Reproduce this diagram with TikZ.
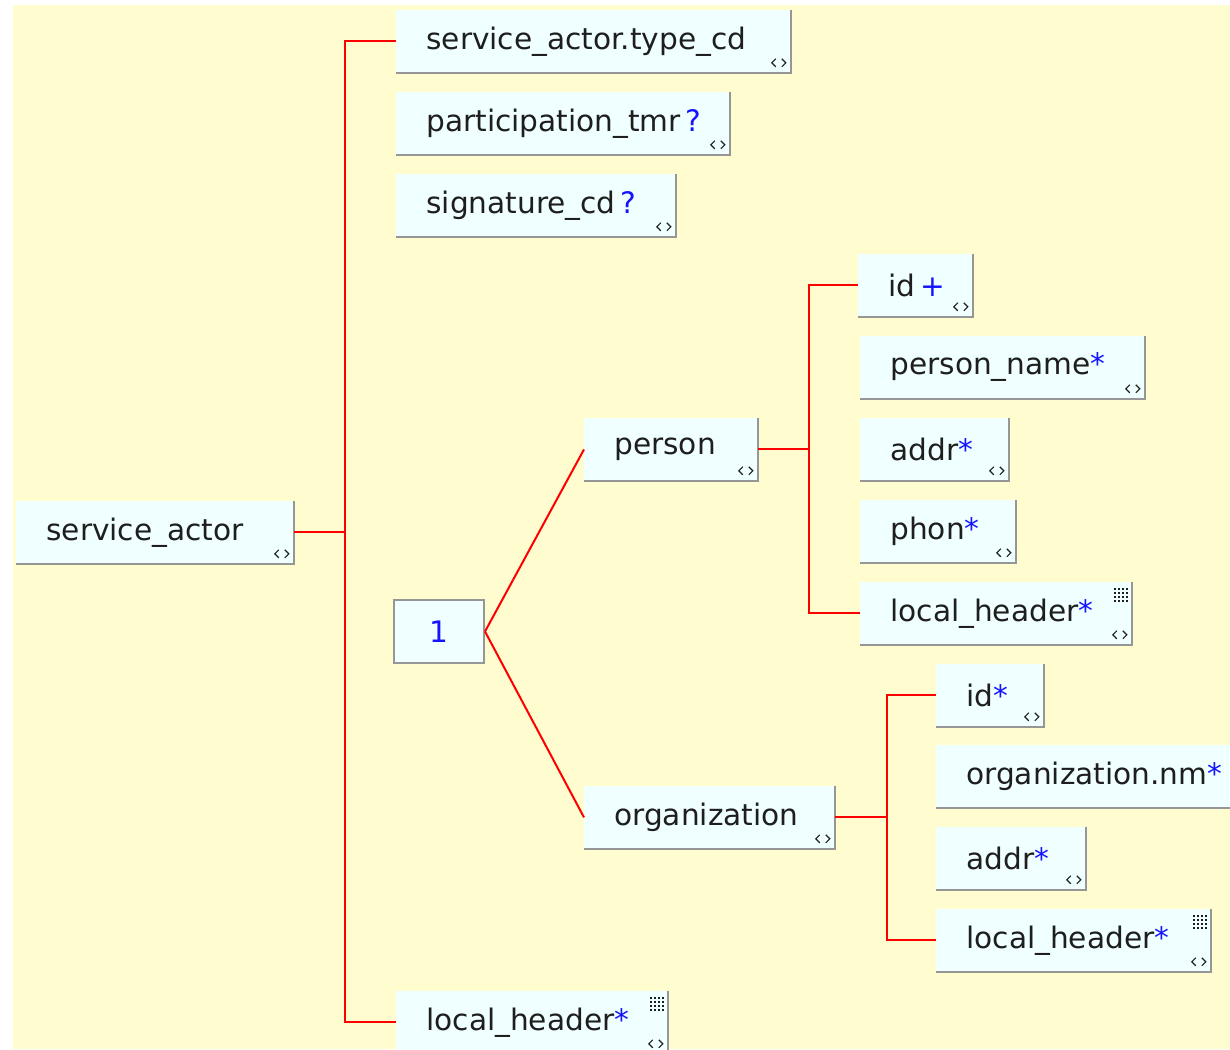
\documentclass[tikz,border=0pt]{standalone}
\usepackage{fontspec}
\setmainfont{DejaVu Sans}
\definecolor{canvas}{RGB}{255,253,208}
\definecolor{boxfill}{RGB}{240,255,255}
\definecolor{boxedge}{RGB}{150,150,150}
\definecolor{occblue}{RGB}{20,20,255}
\definecolor{ink}{RGB}{30,30,30}
\newcommand{\occ}[1]{\textcolor{occblue}{#1}}

\begin{document}
\begin{tikzpicture}[x=0.5pt,y=-0.5pt,
  elem/.style={anchor=north west, fill=boxfill, inner xsep=15pt, inner ysep=0pt,
    minimum height=31pt, align=left, text=ink, font=\fontsize{14.8}{17}\selectfont},
  choicebox/.style={anchor=north west, fill=boxfill, draw=boxedge, line width=1pt,
    minimum width=45pt, minimum height=31.5pt, text=occblue, font=\fontsize{14.8}{17}\selectfont},
  link/.style={draw=red, line width=1pt},
  shade/.style={draw=boxedge, line width=1pt},
  icon/.style={draw=ink, line width=0.6pt}]
\useasboundingbox (0,0) rectangle (1230,1049);
\clip (0,0) rectangle (1230,1049);
\fill[white] (0,0) rectangle (1230,1049);
\fill[canvas] (13,5) rectangle (1230,1049);

% root and its sequence
\node[elem, text width=108.5pt] (sa) at (16,501) {service\_actor};
\node[elem, text width=167pt] (tcd) at (396,10) {service\_actor.type\_cd};
\node[elem, text width=136.5pt] (ptmr) at (396,92) {participation\_tmr\,\occ{?}};
\node[elem, text width=109.5pt] (sigcd) at (396,174) {signature\_cd\,\occ{?}};
\node[choicebox] (one) at (393,599) {1};
\node[elem, text width=105.5pt] (lh) at (396,991) {local\_header\occ{*}};

% person branch
\node[elem, text width=56.5pt] (person) at (584,418) {person};
\node[elem, text width=27pt] (pid) at (858,254) {id\,\occ{+}};
\node[elem, text width=112pt] (pname) at (860,336) {person\_name\occ{*}};
\node[elem, text width=44pt] (paddr) at (860,418) {addr\occ{*}};
\node[elem, text width=47.5pt] (pphon) at (860,500) {phon\occ{*}};
\node[elem, text width=105.5pt] (plh) at (860,582) {local\_header\occ{*}};

% organization branch
\node[elem, text width=95pt] (org) at (584,786) {organization};
\node[elem, text width=23.5pt] (oid) at (936,664) {id\occ{*}};
\node[elem, text width=130pt] (onm) at (936,745) {organization.nm\occ{*}};
\node[elem, text width=44.5pt] (oaddr) at (936,827) {addr\occ{*}};
\node[elem, text width=107pt] (olh) at (936,909) {local\_header\occ{*}};

% shadow edges and the small expand marks
\foreach \n in {sa,tcd,ptmr,sigcd,lh,person,pid,pname,paddr,pphon,plh,org,oid,onm,oaddr,olh} {
  \draw[shade] (\n.north east) -- (\n.south east) -- (\n.south west);
  \draw[icon] ([xshift=-7.5pt,yshift=7pt]\n.south east) -- ++(-2pt,-2pt) -- ++(2pt,-2pt);
  \draw[icon] ([xshift=-4.5pt,yshift=7pt]\n.south east) -- ++(2pt,-2pt) -- ++(-2pt,-2pt);
}
\foreach \n in {plh,olh,lh}
  \foreach \i in {0,1,2,3}
    \foreach \j in {0,1,2,3}
      \fill[ink] ([xshift=-9pt+\i*2pt,yshift=-3pt-\j*2pt]\n.north east) rectangle ++(1.1pt,-1.1pt);

% connectors
\coordinate (sabus) at ([xshift=25.5pt]sa.east);
\draw[link] (sa.east) -- (sabus);
\draw[link] (tcd.west) -| (sabus) |- (lh.west);
\draw[link] (one.east) -- (person.west);
\draw[link] (one.east) -- (org.west);
\coordinate (pbus) at ([xshift=25.5pt]person.east);
\draw[link] (person.east) -- (pbus);
\draw[link] (pid.west) -| (pbus) |- (plh.west);
\coordinate (obus) at ([xshift=26pt]org.east);
\draw[link] (org.east) -- (obus);
\draw[link] (oid.west) -| (obus) |- (olh.west);
\end{tikzpicture}
\end{document}
